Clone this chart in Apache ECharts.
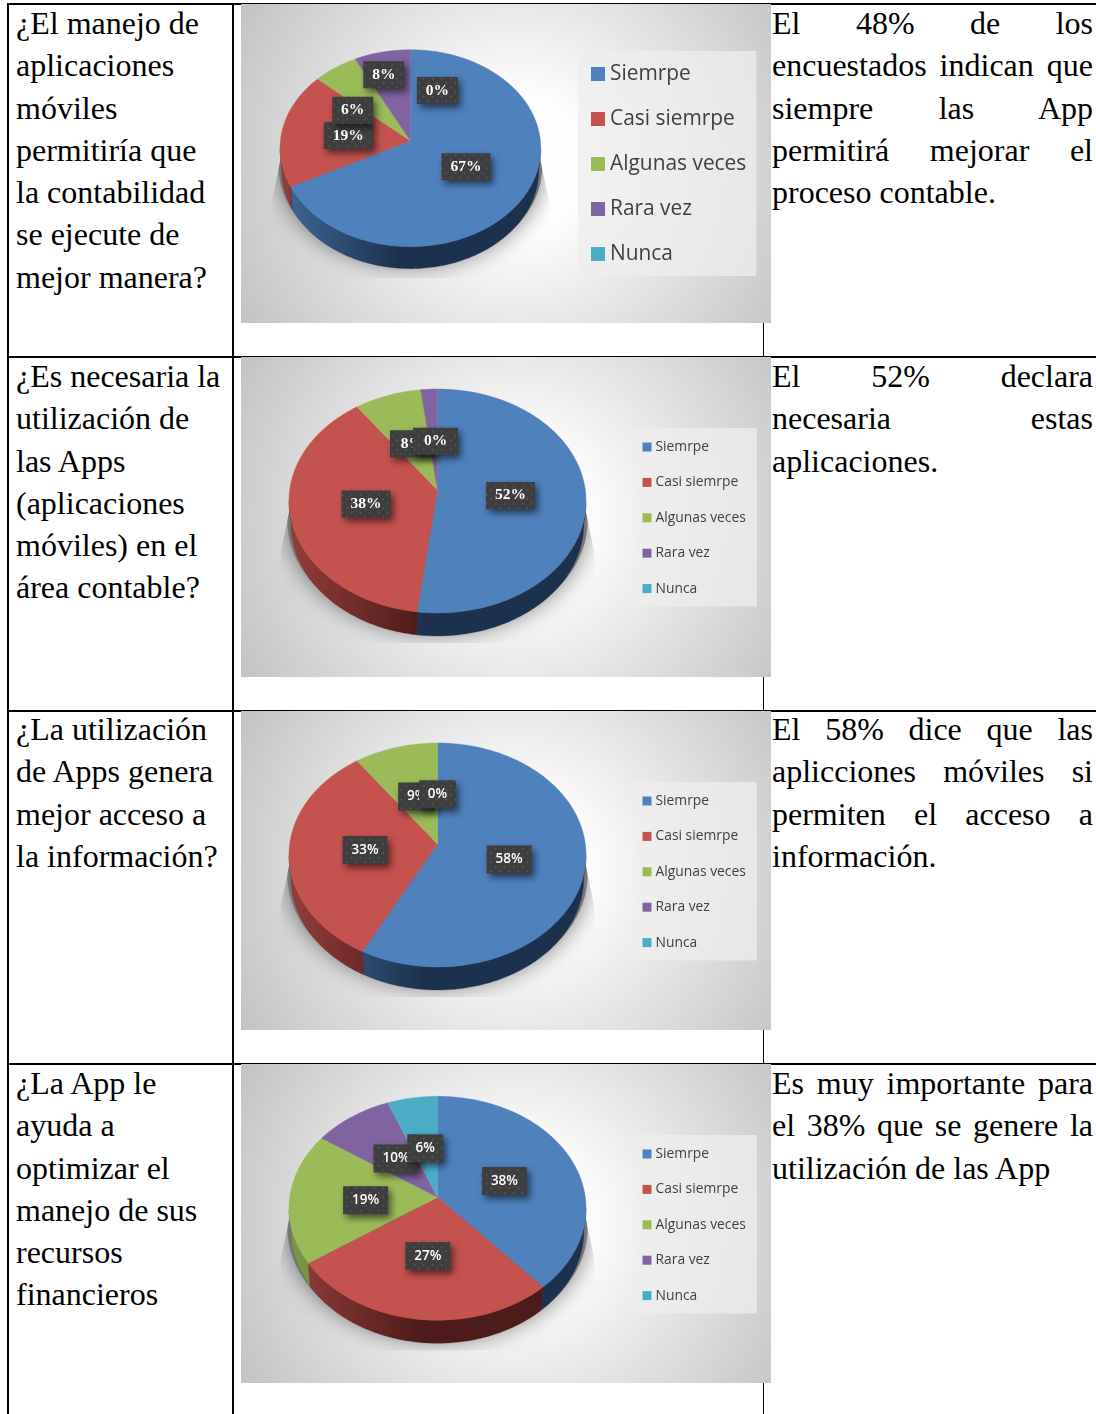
<!DOCTYPE html>
<html lang="es">
<head>
<meta charset="utf-8">
<title>Encuesta sobre aplicaciones móviles</title>
<script src="https://cdn.jsdelivr.net/npm/echarts@6/dist/echarts.min.js"></script>
<style>
html,body{margin:0;padding:0;background:#fff;width:1096px;height:1414px;overflow:hidden}
#page{position:relative;width:1096px;height:1414px;overflow:hidden}
.rule{position:absolute;background:#000}
.line{position:absolute;font-family:"Liberation Serif",serif;font-size:32px;line-height:42.25px;height:42.25px;color:#000;white-space:nowrap}
.just{white-space:normal;text-align:justify;text-align-last:justify}
.last{text-align-last:left}
.chart{position:absolute;left:241px;width:530px}
</style>
</head>
<body>
<div id="page"></div>
<script>
// ---- chart data ----
const categories = ['Siemrpe', 'Casi siemrpe', 'Algunas veces', 'Rara vez', 'Nunca'];
const chart1Values = [67.5, 19, 6, 7.5, 0];
const chart2Values = [52, 38, 8, 2, 0];
const chart3Values = [57.7, 32.3, 10, 0, 0];
const chart4Values = [38.5, 27, 19, 9.5, 6];
const chart1Labels = ['67%', '19%', '6%', '8%', '0%'];
const chart2Labels = ['52%', '38%', '8%', null, '0%'];
const chart3Labels = ['58%', '33%', '9%', null, '0%'];
const chart4Labels = ['38%', '27%', '19%', '10%', '6%'];

// ---- table text ----
const questions = [
  ['¿El manejo de', 'aplicaciones', 'móviles', 'permitiría que', 'la contabilidad', 'se ejecute de', 'mejor manera?'],
  ['¿Es necesaria la', 'utilización de', 'las Apps', '(aplicaciones', 'móviles) en el', 'área contable?'],
  ['¿La utilización', 'de Apps genera', 'mejor acceso a', 'la información?'],
  ['¿La App le', 'ayuda a', 'optimizar el', 'manejo de sus', 'recursos', 'financieros']
];
const findings = [
  ['El 48% de los', 'encuestados indican que', 'siempre las App', 'permitirá mejorar el', 'proceso contable.'],
  ['El 52% declara', 'necesaria estas', 'aplicaciones.'],
  ['El 58% dice que las', 'aplicciones móviles si', 'permiten el acceso a', 'información.'],
  ['Es muy importante para', 'el 38% que se genere la', 'utilización de las App']
];

// ---- styling and layout, kept apart from the data ----
const colors = ['#4f81bd', '#c4524f', '#9bbb59', '#8064a2', '#4bacc6'];
const wallLight = ['#40699a', '#943d3b', '#7d9848', '#5f4a7b', '#3a8ba0'];
const wallDark = ['#1c314d', '#4c1b1a', '#55692f', '#3b2c4f', '#225766'];
const rowTextTops = [2, 355, 708, 1062];
const chartTops = [4, 357, 711, 1064];
const chartHeights = [319, 320, 319, 319];
const pieLayouts = [
  {ax: 169.4, ay: 136.7, A: 130, B: 97.9, p: -0.076, depth: 22},
  {ax: 196.5, ay: 133, A: 147.8, B: 110.9, p: -0.098, depth: 23},
  {ax: 196.5, ay: 133, A: 147.8, B: 110.9, p: -0.098, depth: 23},
  {ax: 196.5, ay: 133.3, A: 147.8, B: 110.9, p: -0.098, depth: 23}
];
// label nudges relative to the middle of each slice
const labelNudges = [
  [[-1, 0], [2, 1], [-19, 7], [-12, -20], [27, -3]],
  [[-1, 2], [1, 0], [1, 3], [0, 0], [-2, 4]],
  [[-1, 2], [1.5, 2], [1, 3], [0, 0], [0, 3]],
  [[-1, 3], [0, 1], [2, 3], [3, 3], [1, 3]]
];
const labelStyles = [
  {font: 'bold 15.5px "Liberation Serif"', h: 27, w1: 41, w2: 49},
  {font: 'bold 15.5px "Liberation Serif"', h: 27, w1: 45, w2: 49},
  {font: '600 13.5px "Open Sans"', h: 28, w1: 37, w2: 45},
  {font: '600 13.5px "Open Sans"', h: 28, w1: 36, w2: 45}
];
const legendStyles = [
  {left: 337, top: 47, font: 20.9, line: 24, gap: 21, mark: 14, pad: [11, 10, 10, 13], shift: 0},
  {left: 392, top: 71, font: 13.85, line: 16, gap: 19.4, mark: 9, pad: [11, 11, 10, 9.5], shift: -1},
  {left: 392, top: 71, font: 13.85, line: 16, gap: 19.4, mark: 9, pad: [11, 11, 10, 9.5], shift: -1},
  {left: 392, top: 71, font: 13.85, line: 16, gap: 19.4, mark: 9, pad: [11, 11, 10, 9.5], shift: -1}
];

// ---- table ----
const page = document.getElementById('page');
function rule(l, t, w, h) {
  const d = document.createElement('div');
  d.className = 'rule';
  d.style.cssText = `left:${l}px;top:${t}px;width:${w}px;height:${h}px`;
  page.appendChild(d);
}
[3, 356, 710, 1063].forEach(y => rule(7, y, 1089, 1.5));
[7, 231.9, 762.6].forEach(x => rule(x, 3, 1.8, 1411));
function writeLines(rows, cls, left, width) {
  rows.forEach((lines, r) => lines.forEach((txt, i) => {
    const d = document.createElement('div');
    d.className = 'line ' + cls + (cls && i === lines.length - 1 ? ' last' : '');
    d.style.left = left + 'px';
    if (width) d.style.width = width + 'px';
    d.style.top = (rowTextTops[r] + i * 42.25) + 'px';
    d.textContent = txt;
    page.appendChild(d);
  }));
}
writeLines(questions, '', 16, 0);
writeLines(findings, 'just', 772, 321);

// ---- dotted label fill ----
const tile = document.createElement('canvas');
tile.width = tile.height = 9;
const tc = tile.getContext('2d');
tc.fillStyle = '#3e3e3e';
tc.fillRect(0, 0, 9, 9);
tc.fillStyle = '#5a5a5a';
tc.fillRect(2, 2, 1.5, 1.5);
tc.fillRect(6.5, 6.5, 1.5, 1.5);
const dotted = {image: tile, repeat: 'repeat'};

// ---- perspective pie ----
function rimPoint(g, frac, r) {
  const t = frac * Math.PI * 2;
  const x = r * Math.sin(t), y = -r * Math.cos(t), w = 1 + g.p * y;
  return [g.ax + g.A * x / w, g.ay + g.B * y / w];
}
function arcPoints(g, a, b) {
  const n = Math.max(2, Math.ceil((b - a) * 360));
  const out = [];
  for (let i = 0; i <= n; i++) out.push(rimPoint(g, a + (b - a) * i / n, 1));
  return out;
}
function lowered(g, pt) {
  return [g.ax + (pt[0] - g.ax) * 0.985, pt[1] + g.depth];
}

function buildOption(values, labels, idx) {
  const g = pieLayouts[idx], ls = labelStyles[idx], lg = legendStyles[idx];
  const total = values.reduce((a, b) => a + b, 0);
  const spans = [];
  let run = 0;
  values.forEach(v => { spans.push([run / total, (run + v) / total]); run += v; });

  const series = [];
  // soft ground shadow, drawn first; cut to a tapered shelf below the pie
  series.push({
    type: 'custom', name: 'sombra', coordinateSystem: 'none', silent: true, z: 1,
    data: [[total]],
    renderItem() {
      const ring = arcPoints(g, 0, 1).map(pt => [g.ax + (pt[0] - g.ax) * 1.01, pt[1] + g.depth - 3]);
      const low = g.ay + g.B * 1.11 + g.depth + 7;
      const L = g.ax - g.A, R = g.ax + g.A;
      return {
        type: 'polygon', shape: {points: ring},
        style: {fill: '#777', shadowBlur: 22, shadowColor: 'rgba(0,0,0,0.5)'},
        clipPath: {type: 'polygon', shape: {points: [
          [L + 2, g.ay + 10], [L - 9, g.ay + 62], [L - 9, low], [R + 9, low], [R + 9, g.ay + 62], [R - 2, g.ay + 10]
        ]}}
      };
    }
  });
  categories.forEach((name, i) => {
    series.push({
      type: 'custom', name, coordinateSystem: 'none', silent: true, z: 2,
      itemStyle: {color: colors[i]},
      data: [[values[i], spans[i][0], spans[i][1]]],
      renderItem(params, api) {
        const a = api.value(1), b = api.value(2);
        if (api.value(0) <= 0) return {type: 'group', children: []};
        const rim = arcPoints(g, a, b);
        const visible = rim.filter((pt, k) => {
          const next = rim[k + 1] || pt, prev = rim[k - 1] || pt;
          return next[0] - prev[0] < 0;
        });
        const children = [];
        if (visible.length > 1) {
          children.push({
            type: 'polygon',
            shape: {points: visible.concat(visible.slice().reverse().map(pt => lowered(g, pt)))},
            style: {
              fill: new echarts.graphic.LinearGradient(g.ax - g.A, 0, g.ax - g.A * 0.1, 0,
                [{offset: 0, color: wallLight[i]}, {offset: 1, color: wallDark[i]}], true),
              stroke: wallDark[i], lineWidth: 0.3
            }
          });
        }
        children.push({
          type: 'polygon',
          shape: {points: [[g.ax, g.ay]].concat(rim)},
          style: {fill: colors[i], stroke: colors[i], lineWidth: 0.4}
        });
        return {type: 'group', children};
      }
    });
  });
  // data labels: centred on each slice at half radius, then nudged
  series.push({
    type: 'custom', name: 'etiquetas', coordinateSystem: 'none', silent: true, z: 5,
    data: values.map((v, i) => [v, i]),
    renderItem(params, api) {
      const i = api.value(1);
      if (!labels[i]) return {type: 'group', children: []};
      const mid = (spans[i][0] + spans[i][1]) / 2;
      const c = rimPoint(g, mid, 0.5);
      const x = c[0] + labelNudges[idx][i][0], y = c[1] + labelNudges[idx][i][1];
      const w = labels[i].length > 2 ? ls.w2 : ls.w1;
      return {
        type: 'group',
        children: [
          {type: 'rect', shape: {x: x - w / 2, y: y - ls.h / 2, width: w, height: ls.h}, z2: i * 2,
            style: {fill: dotted, shadowBlur: 7, shadowOffsetX: 3, shadowOffsetY: 4, shadowColor: 'rgba(0,0,0,0.55)'}},
          {type: 'text', z2: i * 2 + 1,
            style: {text: labels[i], x, y, align: 'center', verticalAlign: 'middle', fill: '#fff', font: ls.font}}
        ]
      };
    }
  });

  return {
    animation: false,
    backgroundColor: new echarts.graphic.RadialGradient(0.52, 0.5, 1,
      [{offset: 0, color: '#ffffff'}, {offset: 0.22, color: '#fdfdfd'}, {offset: 0.98, color: '#c4c4c4'}]),
    legend: {
      orient: 'vertical', left: lg.left, top: lg.top, data: categories, icon: 'rect',
      itemWidth: lg.mark, itemHeight: lg.mark, itemGap: lg.gap, padding: lg.pad, selectedMode: false,
      backgroundColor: 'rgba(238,238,238,0.75)',
      textStyle: {fontFamily: '"Open Sans"', fontSize: lg.font, lineHeight: lg.line, color: '#404040',
        padding: [0, 0, 0, lg.shift]}
    },
    series
  };
}

[[chart1Values, chart1Labels], [chart2Values, chart2Labels], [chart3Values, chart3Labels], [chart4Values, chart4Labels]]
  .forEach((pair, idx) => {
    const d = document.createElement('div');
    d.className = 'chart';
    d.style.top = chartTops[idx] + 'px';
    d.style.height = chartHeights[idx] + 'px';
    page.appendChild(d);
    echarts.init(d, null, {renderer: 'canvas'}).setOption(buildOption(pair[0], pair[1], idx));
  });
</script>
</body>
</html>
